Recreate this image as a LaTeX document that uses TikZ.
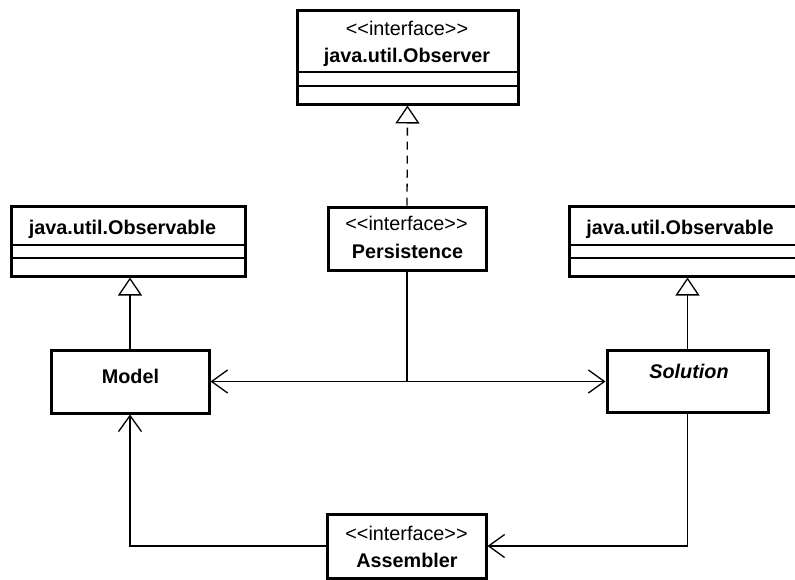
\documentclass[tikz,border=0pt]{standalone}
\usepackage{fontspec}
\setmainfont{Liberation Sans}[Ligatures=TeXOff]
\usetikzlibrary{arrows.meta}
\begin{document}
\begin{tikzpicture}[x=1pt,y=-1pt,
  classbox/.style={draw=black, line width=3pt, fill=white, inner sep=0pt},
  sepline/.style={line width=1.3pt},
  conn/.style={line width=1.3pt},
  stereo/.style={anchor=base, inner sep=0pt, font=\fontsize{19.8}{23}\selectfont},
  cname/.style={anchor=base, inner sep=0pt, font=\fontsize{19.8}{23}\selectfont\bfseries},
  gen/.style={-{Triangle[open,length=18pt,width=24pt,fill=white]}},
  nav/.style={-{Straight Barb[length=16pt,width=23pt]}},
]
\useasboundingbox (0,0) rectangle (795,579);

% Boxes
\node[classbox, minimum width=221pt, minimum height=94pt] (observer) at (407.5,57) {};
\node[classbox, minimum width=234pt, minimum height=70pt] (obsL) at (128,241) {};
\node[classbox, minimum width=231pt, minimum height=70pt] (obsR) at (684.5,241) {};
\node[classbox, minimum width=158pt, minimum height=63pt] (persist) at (407,238.5) {};
\node[classbox, minimum width=158pt, minimum height=63pt] (model) at (130,381.5) {};
\node[classbox, minimum width=161pt, minimum height=62pt] (solution) at (687.5,381) {};
\node[classbox, minimum width=159pt, minimum height=64pt] (assembler) at (406.5,546) {};

% Compartment lines
\draw[sepline] (observer.west |- 0,72) -- (observer.east |- 0,72);
\draw[sepline] (observer.west |- 0,86) -- (observer.east |- 0,86);
\draw[sepline] (obsL.west |- 0,245) -- (obsL.east |- 0,245);
\draw[sepline] (obsL.west |- 0,258) -- (obsL.east |- 0,258);
\draw[sepline] (obsR.west |- 0,245) -- (obsR.east |- 0,245);
\draw[sepline] (obsR.west |- 0,258) -- (obsR.east |- 0,258);

% Texts
\node[stereo] (observerS) at (407,35) {<<interface>>};
\node[cname] (observerN) at (407,62) {java.util.Observer};
\node[cname] (obsLN) at (122.5,234) {java.util.Observable};
\node[cname] (obsRN) at (680,234) {java.util.Observable};
\node[stereo] (persistS) at (406.5,230) {<<interface>>};
\node[cname] (persistN) at (407.5,258) {Persistence};
\node[cname] (modelN) at (130.5,383) {Model};
\node[cname, font=\fontsize{19.8}{23}\selectfont\bfseries\itshape] (solutionN) at (689,378) {Solution};
\node[stereo] (assemblerS) at (406.5,540) {<<interface>>};
\node[cname] (assemblerN) at (407,567) {Assembler};

% Connectors
\draw[conn, gen, dash pattern=on 8pt off 6pt] (persist.north) -- (observer.south);
\draw[conn, gen] (model.north) -- (model.north |- obsL.south);
\draw[conn, gen] (solution.north) -- (solution.north |- obsR.south);
\coordinate (junc) at (persist.south |- model.east);
\draw[conn] (persist.south) -- (junc);
\draw[conn, nav] (junc) -- (model.east);
\draw[conn, nav] (junc) -- (solution.west |- junc);
\draw[conn, nav] (assembler.west) -| (model.south);
\draw[conn, nav] (solution.south) |- (assembler.east);
\end{tikzpicture}
\end{document}
